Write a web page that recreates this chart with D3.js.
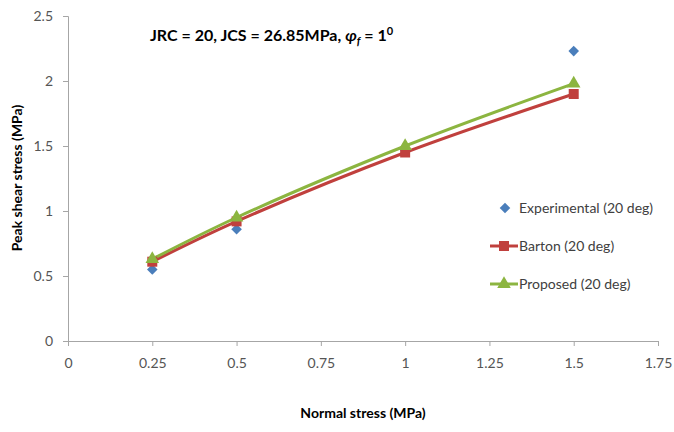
<!DOCTYPE html>
<html><head><meta charset="utf-8">
<script src="https://cdn.jsdelivr.net/npm/d3@7"></script>
<style>body{margin:0;background:#fff}svg{display:block}</style>
</head><body><svg id="c" width="674" height="432"></svg>
<script>
const xValues = [0.25, 0.5, 1.0, 1.5];
const experimental = [0.55, 0.86, 1.47, 2.23];
const barton = [0.61, 0.92, 1.45, 1.90];
const proposed = [0.63, 0.95, 1.50, 1.98];
const xTicks = [0, 0.25, 0.5, 0.75, 1, 1.25, 1.5, 1.75];
const yTicks = [0, 0.5, 1, 1.5, 2, 2.5];
const seriesNames = ["Experimental (20 deg)", "Barton (20 deg)", "Proposed (20 deg)"];

const svg = d3.select("#c");
const font = "Lato, 'Open Sans', sans-serif";
const x = d3.scaleLinear().domain([0, 1.75]).range([68, 658]);
const y = d3.scaleLinear().domain([0, 2.5]).range([341, 16]);
const axisCol = "#a6a6a6";

const gx = svg.append("g").attr("transform", "translate(0,341)")
  .call(d3.axisBottom(x).tickValues(xTicks).tickSize(5).tickPadding(12).tickFormat(d => d3.format("")(d)));
const gy = svg.append("g").attr("transform", "translate(68,0)")
  .call(d3.axisLeft(y).tickValues(yTicks).tickSize(5).tickPadding(10).tickFormat(d => d3.format("")(d)));
[gx, gy].forEach(g => {
  g.select(".domain").attr("stroke", axisCol);
  g.selectAll(".tick line").attr("stroke", axisCol);
  g.selectAll(".tick text").attr("fill", "#555").style("font-family", font).style("font-size", "14px");
});

const line = d3.line().x((d, i) => x(xValues[i])).y(d => y(d)).curve(d3.curveCatmullRom);
const red = "#c0403d", green = "#8cb540", blue = "#4a7ebb";

svg.append("path").datum(barton).attr("d", line).attr("fill", "none").attr("stroke", red).attr("stroke-width", 3);
svg.append("path").datum(proposed).attr("d", line).attr("fill", "none").attr("stroke", green).attr("stroke-width", 3);

const sq = d3.symbol().type(d3.symbolSquare).size(100);
const tri = d3.symbol().type(d3.symbolTriangle).size(80);
const dia = d3.symbol().type(d3.symbolSquare).size(56);

svg.selectAll(".exp").data(experimental).join("path").attr("d", dia)
  .attr("transform", (d, i) => `translate(${x(xValues[i])},${y(d)}) rotate(45)`).attr("fill", blue);
svg.selectAll(".bar").data(barton).join("path").attr("d", sq)
  .attr("transform", (d, i) => `translate(${x(xValues[i])},${y(d)})`).attr("fill", red);
svg.selectAll(".pro").data(proposed).join("path").attr("d", tri)
  .attr("transform", (d, i) => `translate(${x(xValues[i])},${y(d)})`).attr("fill", green);

// legend
const lg = svg.append("g");
const ly = [208, 246, 284];
lg.append("path").attr("d", dia).attr("transform", `translate(505,${ly[0]}) rotate(45)`).attr("fill", blue);
lg.append("line").attr("x1", 490).attr("x2", 518).attr("y1", ly[1]).attr("y2", ly[1]).attr("stroke", red).attr("stroke-width", 3);
lg.append("path").attr("d", sq).attr("transform", `translate(504,${ly[1]})`).attr("fill", red);
lg.append("line").attr("x1", 490).attr("x2", 518).attr("y1", ly[2]).attr("y2", ly[2]).attr("stroke", green).attr("stroke-width", 3);
lg.append("path").attr("d", tri).attr("transform", `translate(504,${ly[2]})`).attr("fill", green);
seriesNames.forEach((n, i) => {
  lg.append("text").attr("x", 519).attr("y", ly[i]).attr("dy", "0.35em").text(n)
    .style("font-family", font).style("font-size", "14px").attr("fill", "#404040");
});

// title
const t = svg.append("text").attr("x", 150).attr("y", 41).style("font-family", font)
  .style("font-size", "16px").style("font-weight", "bold").attr("fill", "#000");
t.append("tspan").text("JRC = 20, JCS = 26.85MPa, ");
t.append("tspan").text("φ").style("font-style", "italic");
t.append("tspan").text("f").style("font-style", "italic").style("font-size", "11px").attr("dy", 4);
t.append("tspan").text(" = 1").attr("dy", -4);
t.append("tspan").text("0").style("font-size", "11px").attr("dy", -6);

svg.append("text").attr("transform", "translate(22,178) rotate(-90)").attr("text-anchor", "middle")
  .style("font-family", font).style("font-size", "14px").style("font-weight", "bold").text("Peak shear stress (MPa)");
svg.append("text").attr("x", 363).attr("y", 418).attr("text-anchor", "middle")
  .style("font-family", font).style("font-size", "14px").style("font-weight", "bold").text("Normal stress (MPa)");
</script></body></html>
